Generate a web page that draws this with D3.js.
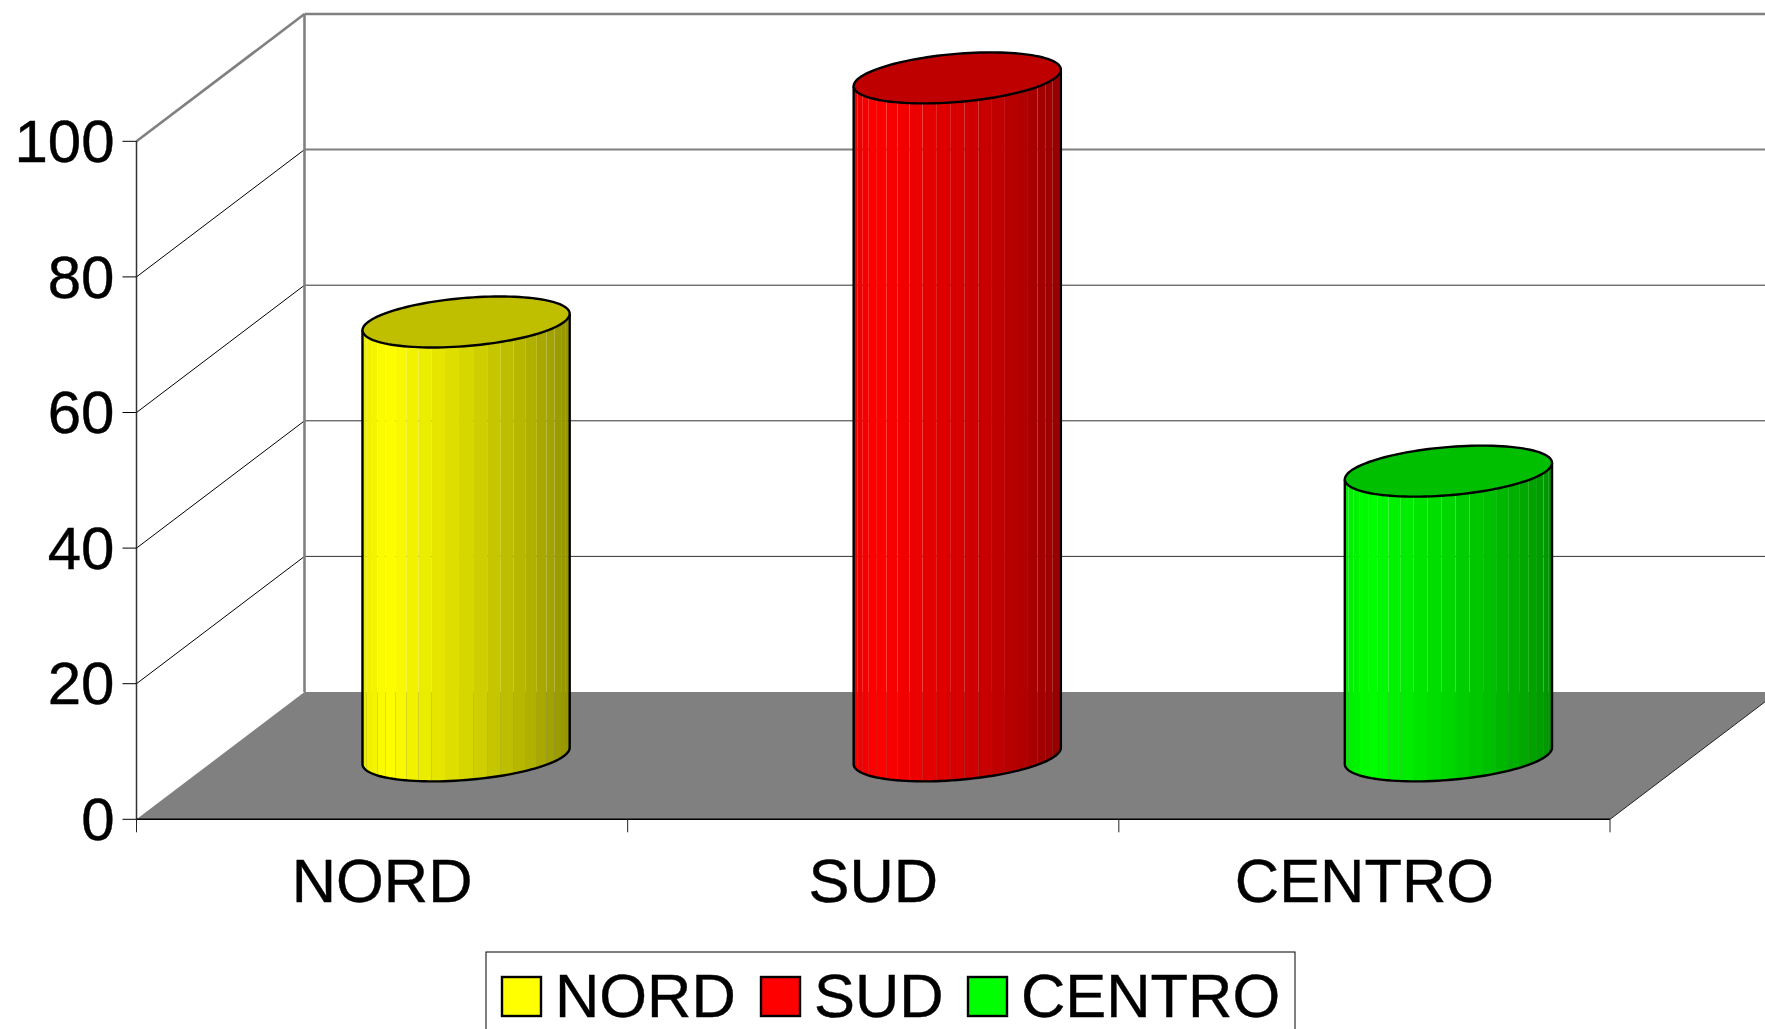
<!DOCTYPE html>
<meta charset="utf-8">
<style>
    html, body { margin: 0; background: #fff; overflow: hidden; }
    svg { display: block; }
    text { font-family: "Liberation Sans", Arial, sans-serif; fill: #000; stroke: #000; stroke-width: 0.4px; }
</style>
<svg width="1765" height="1029"></svg>
<script src="https://d3js.org/d3.v7.min.js"></script>
<script>

    // values
    var categories = ["NORD", "SUD", "CENTRO"];
    var values = [64, 100, 42];
    var colors = ["#ffff00", "#ff0000", "#00ff00"];
    var yTicks = [0, 20, 40, 60, 80, 100];

    var svg = d3.select("svg"),
        plotLeft = 136.5, plotRight = 1610,
        plotBottom = 819.3, plotTop = 141.3,
        depthX = 168, depthY = 127.3,  // how far the back wall sits from the front axes
        fontSize = 61.4;

    var x = d3.scaleBand().domain(categories).range([plotLeft, plotRight]);
    var y = d3.scaleLinear().domain([0, 100]).range([plotBottom, plotTop]);

    // back wall gridlines and the diagonals on the left wall
    var grid = svg.append("g").attr("fill", "none").attr("stroke", "#000").attr("stroke-width", 1);
    yTicks.slice(1).forEach(function(t) {
        var wide = t >= 80;
        grid.append("line")
            .attr("x1", plotLeft + depthX).attr("x2", plotRight + depthX)
            .attr("y1", y(t) - depthY).attr("y2", y(t) - depthY)
            .attr("stroke", wide ? "#808080" : "#333")
            .attr("stroke-width", t == 100 ? 2.6 : wide ? 2 : 1);
        grid.append("line")
            .attr("x1", plotLeft).attr("x2", plotLeft + depthX)
            .attr("y1", y(t)).attr("y2", y(t) - depthY)
            .attr("stroke", t == 100 ? "#808080" : "#000")
            .attr("stroke-width", t == 100 ? 2.6 : 1);
    });
    grid.append("line")
        .attr("x1", plotLeft + depthX).attr("x2", plotLeft + depthX)
        .attr("y1", y(100) - depthY).attr("y2", y(0) - depthY)
        .attr("stroke", "#808080").attr("stroke-width", 2.6);

    // floor
    var outline = d3.line();
    svg.append("path")
        .attr("fill", "#808080")
        .attr("d", outline([
            [plotLeft, plotBottom], [plotLeft + depthX, plotBottom - depthY],
            [plotRight + depthX, plotBottom - depthY], [plotRight, plotBottom]
        ]) + "Z");
    svg.append("line")
        .attr("x1", plotRight).attr("x2", plotRight + depthX)
        .attr("y1", plotBottom).attr("y2", plotBottom - depthY)
        .attr("stroke", "#222").attr("stroke-width", 1);

    // cylinders: the base circle is skewed along the same depth direction as the floor
    var radiusX = 98, skewX = 33.6, skewY = 25.5,
        baseY = plotBottom - 63.4,
        facets = 23,
        phi = Math.atan2(skewX, radiusX);

    function rim(cx, cy, t) {
        return [cx + radiusX * Math.cos(t) + skewX * Math.sin(t), cy - skewY * Math.sin(t)];
    }

    // brightness across the front of the cylinder, 0 = left edge, 1 = right edge
    var shade = d3.scaleLinear()
        .domain([0, 0.12, 0.5, 0.8, 1])
        .range([0.92, 1, 0.84, 0.7, 0.58]);

    function tint(color, k) {
        var c = d3.rgb(color);
        return d3.rgb(c.r * k, c.g * k, c.b * k).formatHex();
    }

    var bars = svg.selectAll(".bar")
        .data(categories)
        .enter().append("g")
        .attr("class", "bar");

    bars.each(function(name, i) {
        var g = d3.select(this),
            cx = x(name) + x.bandwidth() / 2 + depthX / 2,
            topY = baseY - (y(0) - y(values[i])),
            start = Math.PI + phi;

        // the visible half of the wall, one piece per facet
        d3.range(facets).forEach(function(k) {
            var t0 = start + Math.PI * k / facets,
                t1 = start + Math.PI * (k + 1) / facets,
                mid = rim(cx, baseY, (t0 + t1) / 2)[0],
                frac = (mid - (cx - Math.hypot(radiusX, skewX))) / (2 * Math.hypot(radiusX, skewX));
            g.append("path")
                .attr("fill", tint(colors[i], shade(frac)))
                .attr("d", outline([
                    rim(cx, topY, t0), rim(cx, topY, t1),
                    rim(cx, baseY, t1), rim(cx, baseY, t0)
                ]) + "Z");
        });

        var steps = d3.range(0, 61).map(function(k) { return start + Math.PI * k / 60; });
        var lower = steps.map(function(t) { return rim(cx, baseY, t); });
        g.append("path")
            .attr("fill", "none")
            .attr("stroke", "#000")
            .attr("stroke-width", 2.4)
            .attr("d", outline([rim(cx, topY, start)].concat(lower, [rim(cx, topY, start + Math.PI)])));

        var lid = d3.range(0, 120).map(function(k) { return rim(cx, topY, 2 * Math.PI * k / 120); });
        g.append("path")
            .attr("fill", tint(colors[i], 0.75))
            .attr("stroke", "#000")
            .attr("stroke-width", 2.4)
            .attr("d", outline(lid) + "Z");
    });

    // axes
    var yAxis = svg.append("g")
        .attr("transform", "translate(" + plotLeft + ",0)")
        .call(d3.axisLeft(y).tickValues(yTicks).tickSize(14).tickPadding(8).tickSizeOuter(0).offset(0));

    var xAxis = svg.append("g")
        .attr("transform", "translate(0," + plotBottom + ")")
        .call(d3.axisBottom(x).tickSize(0).tickPadding(39).tickSizeOuter(0).offset(0));

    // the category ticks sit between the bands, not on them
    categories.concat([null]).forEach(function(name) {
        var px = name ? x(name) : plotRight;
        xAxis.append("line")
            .attr("x1", px).attr("x2", px)
            .attr("y1", 0).attr("y2", 13)
            .attr("stroke", "#222");
    });

    yAxis.selectAll("text").attr("font-size", 60).attr("font-family", null).attr("dy", "0.345em");
    xAxis.selectAll("text").attr("font-size", fontSize).attr("font-family", null);
    yAxis.select(".domain").attr("stroke", "#333").attr("stroke-width", 1.5);
    xAxis.select(".domain").attr("stroke", "#000").attr("stroke-width", 1.5);

    // legend, runs off the bottom edge of the page
    var legend = svg.append("g");
    legend.append("rect")
        .attr("x", 486).attr("y", 952)
        .attr("width", 809).attr("height", 90)
        .attr("fill", "#fff").attr("stroke", "#000").attr("stroke-width", 1);

    var swatchX = [502, 761, 968],
        labelX = [555, 814, 1021];

    categories.forEach(function(name, i) {
        legend.append("rect")
            .attr("x", swatchX[i]).attr("y", 977)
            .attr("width", 39).attr("height", 39)
            .attr("fill", colors[i]).attr("stroke", "#000").attr("stroke-width", 2.4);
        legend.append("text")
            .attr("x", labelX[i]).attr("y", 1017)
            .attr("font-size", fontSize)
            .text(name);
    });

</script>
